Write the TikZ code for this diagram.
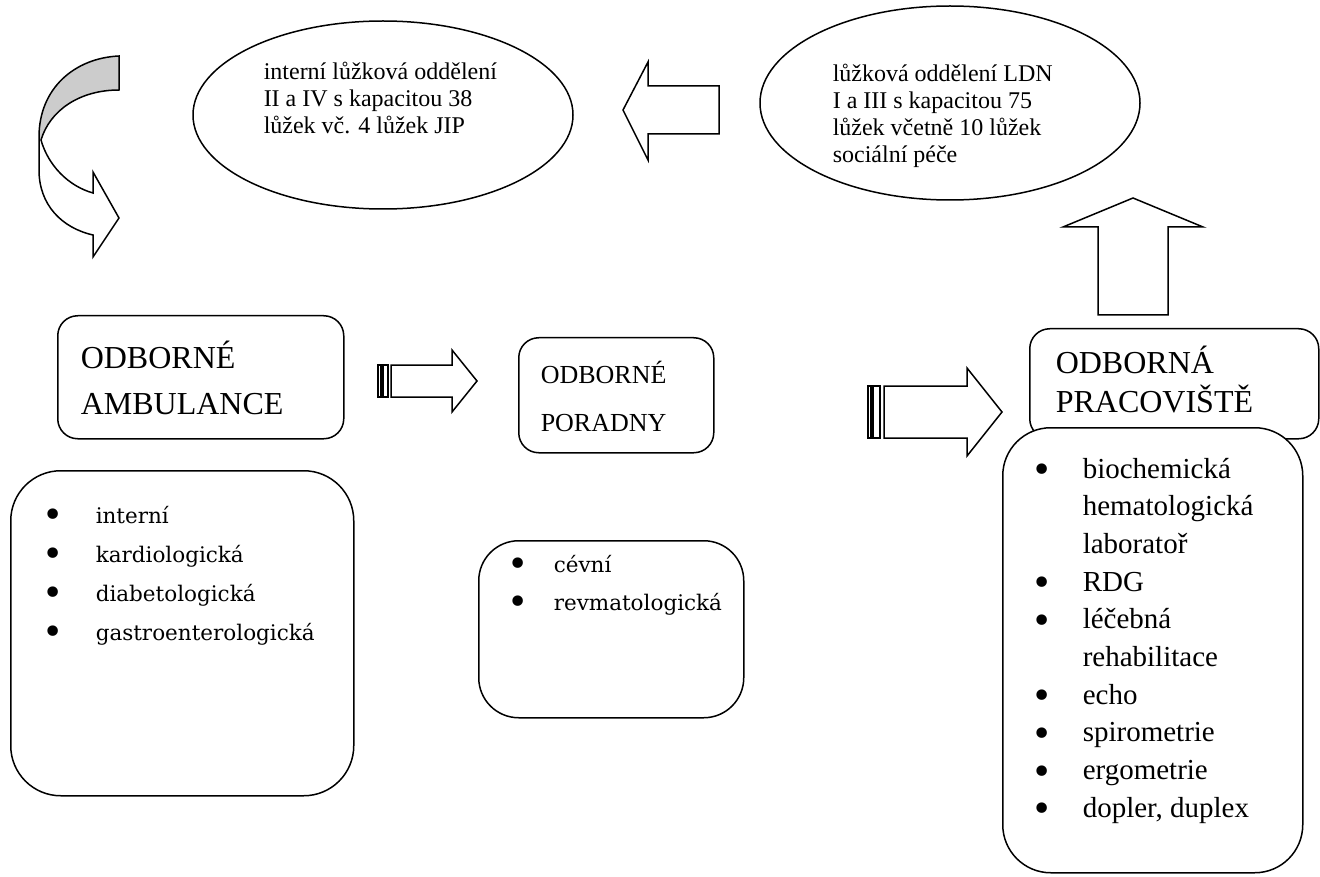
\documentclass[tikz,border=0pt]{standalone}
\usepackage{fontspec}
\setmainfont{Liberation Serif}
\newfontfamily\listfont{DejaVu Serif}
\newfontfamily\bltfont{DejaVu Sans}
\usetikzlibrary{shapes.geometric, positioning, calc}

% bullet centred #1 to the left of the item text
\newcommand{\blt}[1]{\llap{\makebox[0pt]{\raisebox{-4.5pt}{\bltfont\fontsize{36}{36}\selectfont\symbol{"2022}}}\hspace{#1}}}

\begin{document}
\begin{tikzpicture}[
    x=1pt, y=-1pt,
    line width=1.5pt,
    hdrbox/.style={rectangle, rounded corners=20pt, draw=black, fill=white, anchor=north west, inner sep=0pt},
    listbox/.style={rectangle, rounded corners=#1, draw=black, fill=white, anchor=north west, inner sep=0pt},
    ward/.style={ellipse, draw=black, fill=white, inner sep=0pt},
    txt/.style={anchor=base west, inner sep=0pt},
    blockarrow/.style={draw=black, fill=white, line join=miter}
]
\useasboundingbox (0,0) rectangle (1320,877);

% Wards
\node[ward, minimum width=380, minimum height=188] (internal) at (383,115) {};
\node[txt, font={\fontsize{24}{27}\selectfont}] (internaltxt) at (263,80) {\begin{tabular}[t]{@{}l@{}}
    interní lůžková oddělení\\ II a IV s kapacitou 38\\ lůžek vč. 4 lůžek JIP\end{tabular}};
\node[ward, minimum width=380, minimum height=194] (ldn) at (950,103) {};
\node[txt, font={\fontsize{24}{27}\selectfont}] (ldntxt) at (832,82) {\begin{tabular}[t]{@{}l@{}}
    lůžková oddělení LDN\\ I a III s kapacitou 75\\ lůžek včetně 10 lůžek\\ sociální péče\end{tabular}};

% Headers
\node[hdrbox, minimum width=286, minimum height=123] (amb) at (57,315) {};
\node[txt, font={\fontsize{32}{47}\selectfont}] (ambtxt) at (80,368) {\begin{tabular}[t]{@{}l@{}}
    ODBORNÉ\\ AMBULANCE\end{tabular}};
\node[hdrbox, minimum width=195, minimum height=115] (por) at (518,337) {};
\node[txt, font={\fontsize{26}{48}\selectfont}] (portxt) at (540,383) {\begin{tabular}[t]{@{}l@{}}
    ODBORNÉ\\ PORADNY\end{tabular}};
\node[hdrbox, minimum width=289, minimum height=110] (prac) at (1029,328) {};
\node[txt, font={\fontsize{32}{39}\selectfont}] (practxt) at (1055,373) {\begin{tabular}[t]{@{}l@{}}
    ODBORNÁ\\ PRACOVIŠTĚ\end{tabular}};

% Lists
\node[listbox=50pt, minimum width=343, minimum height=325] (amblist) at (10,470) {};
\node[txt, font={\listfont\fontsize{21.5}{39}\selectfont}] (amblisttxt) at (95,523) {\begin{tabular}[t]{@{}l@{}}
    \blt{43pt}interní\\ \blt{43pt}kardiologická\\ \blt{43pt}diabetologická\\ \blt{43pt}gastroenterologická\end{tabular}};
\node[listbox=40pt, minimum width=265, minimum height=177] (porlist) at (478,540) {};
\node[txt, font={\listfont\fontsize{21.5}{38}\selectfont}] (porlisttxt) at (553,572) {\begin{tabular}[t]{@{}l@{}}
    \blt{36pt}cévní\\ \blt{36pt}revmatologická\end{tabular}};
\node[listbox=48pt, minimum width=300, minimum height=445] (praclist) at (1002,427) {};
\node[txt, font={\fontsize{29}{37.7}\selectfont}] (praclisttxt) at (1082,478) {\begin{tabular}[t]{@{}l@{}}
    \blt{41pt}biochemická\\ hematologická\\ laboratoř\\ \blt{41pt}RDG\\ \blt{41pt}léčebná\\ rehabilitace\\
    \blt{41pt}echo\\ \blt{41pt}spirometrie\\ \blt{41pt}ergometrie\\ \blt{41pt}dopler, duplex\end{tabular}};

% Arrows
\fill[gray!40] (119,56) .. controls (75,58) and (39,88) .. (39,137) -- (41,140)
    .. controls (50,110) and (80,90) .. (119,90) -- cycle;
\draw[line join=miter] (119,90) .. controls (80,90) and (50,110) .. (41,140)
    .. controls (48,165) and (68,186) .. (93,193) -- (93,172) -- (119,218) -- (93,257) -- (93,235)
    .. controls (62,228) and (39,205) .. (39,170) -- (39,137) .. controls (39,88) and (75,58) .. (119,56) -- cycle;
\draw[blockarrow] (623,110) -- (648,62) -- (648,86) -- (719,86) -- (719,134) -- (648,134) -- (648,160) -- cycle;
\draw[blockarrow] (1133,198) -- (1203,227) -- (1168,227) -- (1168,315) -- (1098,315) -- (1098,227) -- (1063,227) -- cycle;
\draw[blockarrow] (378,365) rectangle (381,397);
\draw[blockarrow] (383,365) rectangle (388,397);
\draw[blockarrow] (391,365) -- (452,365) -- (452,350) -- (477,381) -- (452,412) -- (452,397) -- (391,397) -- cycle;
\draw[blockarrow] (868,386) rectangle (871,438);
\draw[blockarrow] (873,386) rectangle (880,438);
\draw[blockarrow] (884,386) -- (967,386) -- (967,368) -- (1002,412) -- (967,456) -- (967,438) -- (884,438) -- cycle;

\end{tikzpicture}
\end{document}
